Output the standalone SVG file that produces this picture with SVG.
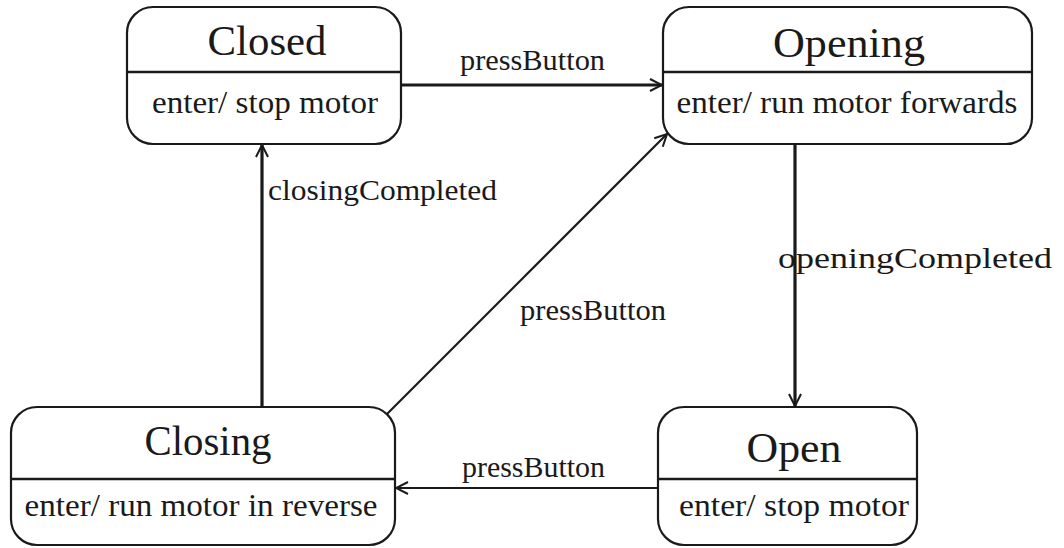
<svg xmlns="http://www.w3.org/2000/svg" width="1064" height="548" viewBox="0 0 1064 548">
<defs>
<marker id="arr" viewBox="0 0 14 14" refX="13" refY="7" markerWidth="14" markerHeight="14" markerUnits="userSpaceOnUse" orient="auto">
<path d="M1,1 L13,7 L1,13" fill="none" stroke="#1a1a1a" stroke-width="2"/>
</marker>
</defs>
<style>
.box{fill:#fff;stroke:#1a1a1a;stroke-width:2.2}
.div{stroke:#1a1a1a;stroke-width:2.5}
text{font-family:"Liberation Serif","DejaVu Serif","Times New Roman",Times,serif;fill:#1a1a1a}
.title{font-size:42px;text-anchor:middle}
.body{font-size:31px;text-anchor:middle}
.lbl{font-size:30px}
.thick{stroke:#1a1a1a;stroke-width:3.2;fill:none}
.thin{stroke:#1a1a1a;stroke-width:2.2;fill:none}
</style>
<rect width="1064" height="548" fill="#fff"/>
<g id="connectors">
<line class="thick" x1="401" y1="85" x2="662" y2="85" marker-end="url(#arr)"/>
<line class="thick" x1="795" y1="144" x2="795" y2="406" marker-end="url(#arr)"/>
<line class="thin" x1="658" y1="488" x2="396" y2="488" marker-end="url(#arr)"/>
<line class="thick" x1="262" y1="407" x2="262" y2="145" marker-end="url(#arr)"/>
<line class="thin" x1="387" y1="414" x2="667" y2="134" marker-end="url(#arr)"/>
<text class="lbl" x="460" y="70" textLength="145" lengthAdjust="spacingAndGlyphs">pressButton</text>
<text class="lbl" x="778" y="268" textLength="274" lengthAdjust="spacingAndGlyphs">openingCompleted</text>
<text class="lbl" x="268" y="200" textLength="229" lengthAdjust="spacingAndGlyphs">closingCompleted</text>
<text class="lbl" x="520" y="320" textLength="146" lengthAdjust="spacingAndGlyphs">pressButton</text>
<text class="lbl" x="462" y="477" textLength="143" lengthAdjust="spacingAndGlyphs">pressButton</text>
</g>
<g id="closed">
<rect class="box" x="127" y="7" width="274" height="137" rx="26"/>
<line class="div" x1="127" y1="72" x2="401" y2="72"/>
<text class="title" x="267" y="55" textLength="119" lengthAdjust="spacingAndGlyphs">Closed</text>
<text class="body" x="265" y="113" textLength="226" lengthAdjust="spacingAndGlyphs">enter/ stop motor</text>
</g>
<g id="opening">
<rect class="box" x="663" y="7" width="369" height="137" rx="26"/>
<line class="div" x1="663" y1="72" x2="1032" y2="72"/>
<text class="title" x="849" y="57" textLength="152" lengthAdjust="spacingAndGlyphs">Opening</text>
<text class="body" x="847" y="113" textLength="341" lengthAdjust="spacingAndGlyphs">enter/ run motor forwards</text>
</g>
<g id="closing">
<rect class="box" x="11" y="407" width="384" height="138" rx="26"/>
<line class="div" x1="11" y1="479" x2="395" y2="479"/>
<text class="title" x="208" y="455" textLength="127" lengthAdjust="spacingAndGlyphs">Closing</text>
<text class="body" x="201" y="516" textLength="353" lengthAdjust="spacingAndGlyphs">enter/ run motor in reverse</text>
</g>
<g id="open">
<rect class="box" x="658" y="407" width="259" height="138" rx="26"/>
<line class="div" x1="658" y1="479" x2="917" y2="479"/>
<text class="title" x="794" y="462" textLength="95" lengthAdjust="spacingAndGlyphs">Open</text>
<text class="body" x="794" y="516" textLength="230" lengthAdjust="spacingAndGlyphs">enter/ stop motor</text>
</g>
</svg>
